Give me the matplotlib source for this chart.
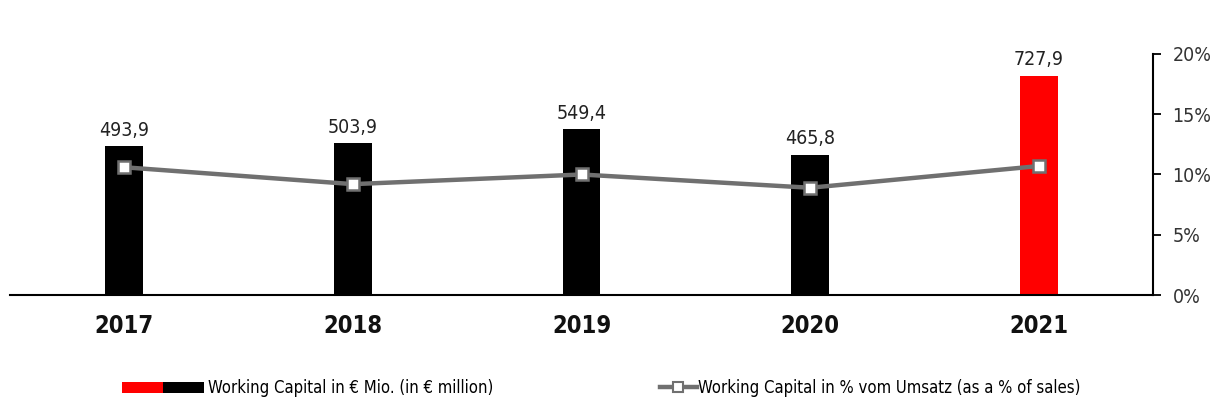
import matplotlib
matplotlib.use('Agg')
from matplotlib import pyplot as plt
from matplotlib.patches import Rectangle
from matplotlib.lines import Line2D
from matplotlib.legend_handler import HandlerBase
import numpy as np

years = ['2017', '2018', '2019', '2020', '2021']
working_capital = [493.9, 503.9, 549.4, 465.8, 727.9]
pct_of_sales = [10.6, 9.2, 10.0, 8.9, 10.7]
bar_colors = ['#000000', '#000000', '#000000', '#000000', '#ff0000']

plt.rcParams['font.family'] = ['DejaVu Sans']
plt.rcParams['font.stretch'] = 'condensed'


class TwoColorHandler(HandlerBase):
    def create_artists(self, legend, orig, xd, yd, width, height, fontsize, trans):
        w = width / 2
        r = Rectangle((xd, yd), w, height, facecolor='#ff0000', transform=trans)
        b = Rectangle((xd + w, yd), w, height, facecolor='#000000', transform=trans)
        return [r, b]


fig = plt.figure(figsize=(12.15, 4.19), dpi=100)
ax = fig.add_axes([10 / 1215, 124 / 419, 1143 / 1215, 241 / 419])
x = np.arange(len(years))
ax.bar(x, working_capital, width=0.166, color=bar_colors, zorder=2)
for xi, v in zip(x, working_capital):
    ax.text(xi, v + 22, f'{v:.1f}'.replace('.', ','), ha='center', va='bottom',
            fontsize=14, color='#222222')
ax.set_xlim(-0.5, 4.5)
ax.set_ylim(0, 800)
ax.set_yticks([])
ax.set_xticks(x)
ax.set_xticklabels(years, fontsize=17, fontweight='bold', color='#111111')
ax.tick_params(axis='x', length=0, pad=14)
for s in ['top', 'left', 'right']:
    ax.spines[s].set_visible(False)
ax.spines['bottom'].set_linewidth(1.5)

ax2 = ax.twinx()
ax2.plot(x, pct_of_sales, color='#707070', lw=3.2, marker='s', markersize=8,
         markerfacecolor='white', markeredgecolor='#707070', markeredgewidth=1.8, zorder=3)
ax2.set_ylim(0, 20)
ax2.set_yticks([0, 5, 10, 15, 20])
ax2.set_yticklabels(['0%', '5%', '10%', '15%', '20%'], fontsize=14, color='#333333')
ax2.tick_params(axis='y', length=6, width=1.3, pad=8, direction='out')
for s in ['top', 'left', 'bottom']:
    ax2.spines[s].set_visible(False)
ax2.spines['right'].set_linewidth(1.5)

h1 = Rectangle((0, 0), 1, 1)
fig.legend([h1], ['Working Capital in € Mio. (in € million)'],
           handler_map={Rectangle: TwoColorHandler()},
           loc='center left', bbox_to_anchor=(122 / 1215, 1 - 388 / 419),
           frameon=False, fontsize=12, handlelength=4.9, handleheight=0.65,
           handletextpad=0.25, borderpad=0, borderaxespad=0)
h2 = Line2D([0], [0], color='#707070', lw=3.2, marker='s', markersize=7,
            markerfacecolor='white', markeredgecolor='#707070', markeredgewidth=1.5)
fig.legend([h2], ['Working Capital in % vom Umsatz (as a % of sales)'],
           loc='center left', bbox_to_anchor=(660 / 1215, 1 - 388 / 419),
           frameon=False, fontsize=12, handlelength=2.2,
           handletextpad=0.1, borderpad=0, borderaxespad=0)

fig.savefig('out.png', dpi=100)
